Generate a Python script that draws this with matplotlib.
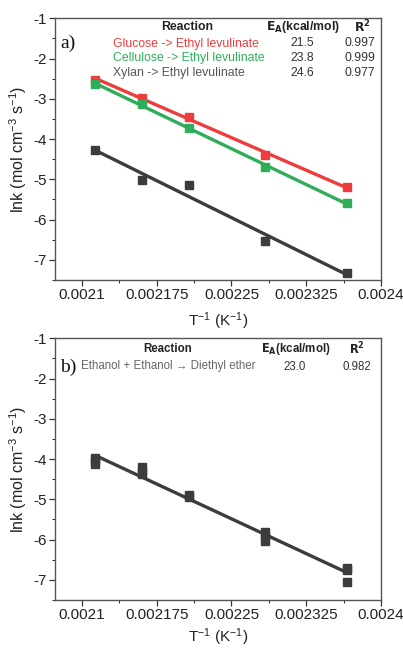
import numpy as np
import matplotlib
matplotlib.use("Agg")
import matplotlib.pyplot as plt
from matplotlib.ticker import FixedLocator, MultipleLocator

plt.rcParams['font.family'] = ['Liberation Sans', 'DejaVu Sans']
plt.rcParams['mathtext.default'] = 'regular'

# ---- data ----
x_inv_T = [0.0021135, 0.0021598, 0.0022075, 0.0022835, 0.0023660]

glucose_lnk = [-2.53, -2.97, -3.44, -4.39, -5.20]
cellulose_lnk = [-2.64, -3.12, -3.73, -4.69, -5.59]
xylan_lnk = [-4.27, -5.01, -5.14, -6.54, -7.33]

ethanol_x = [0.0021135, 0.0021135, 0.0021135,
             0.0021598, 0.0021598, 0.0021598,
             0.0022075, 0.0022075,
             0.0022835, 0.0022835, 0.0022835,
             0.0023660, 0.0023660, 0.0023660]
ethanol_lnk = [-3.98, -4.05, -4.12,
               -4.20, -4.30, -4.38,
               -4.88, -4.95,
               -5.80, -5.92, -6.03,
               -6.70, -6.75, -7.06]

series_a_names = ["Glucose -> Ethyl levulinate", "Cellulose -> Ethyl levulinate",
                  "Xylan -> Ethyl levulinate"]
series_a_EA = ["21.5", "23.8", "24.6"]
series_a_R2 = ["0.997", "0.999", "0.977"]
series_b_names = ["Ethanol + Ethanol \u2192 Diethyl ether"]
series_b_EA = ["23.0"]
series_b_R2 = ["0.982"]

xticks = [0.0021, 0.002175, 0.00225, 0.002325, 0.0024]
xticklabels = ["0.0021", "0.002175", "0.00225", "0.002325", "0.0024"]
yticks = [-7, -6, -5, -4, -3, -2, -1]

RED = "#ee3b3b"
GREEN = "#2fae5a"
DARK = "#3c3c3c"
TXTDARK = "#555555"

W, H = 403, 649
fig = plt.figure(figsize=(W / 100, H / 100), dpi=100)

def px_axes(left, top, right, bottom):
    return fig.add_axes([left / W, 1 - bottom / H, (right - left) / W, (bottom - top) / H])

ax1 = px_axes(55, 18.3, 381, 280)
ax2 = px_axes(55, 338.3, 381, 600)

def style(ax, lp):
    ax.set_xlim(0.002073, 0.0024)
    ax.set_ylim(-7.5, -1)
    ax.xaxis.set_major_locator(FixedLocator(xticks))
    ax.set_xticklabels(xticklabels)
    ax.xaxis.set_minor_locator(MultipleLocator(0.0000375))
    ax.yaxis.set_major_locator(FixedLocator(yticks))
    ax.set_yticklabels([str(v) for v in yticks])
    ax.yaxis.set_minor_locator(MultipleLocator(0.5))
    ax.tick_params(which='major', direction='out', length=4, width=0.9, labelsize=11,
                   colors='#333333', labelcolor='#222222', pad=2)
    ax.tick_params(which='minor', direction='out', length=2.5, width=0.8, colors='#333333')
    for s in ax.spines.values():
        s.set_color('#555555')
        s.set_linewidth(1.0)
    ax.set_ylabel(r'lnk (mol cm$^{-3}$ s$^{-1}$)', fontsize=11.5, color='#222222', labelpad=3)
    ax.set_xlabel(r'T$^{-1}$ (K$^{-1}$)', fontsize=11, color='#222222', labelpad=lp)

def fit_line(ax, xs, ys, color):
    p = np.polyfit(xs, ys, 1)
    xx = np.array([min(xs), max(xs)])
    ax.plot(xx, np.polyval(p, xx), color=color, lw=2.4, zorder=2, solid_capstyle='butt')

# panel a
for ys, c in [(glucose_lnk, RED), (cellulose_lnk, GREEN), (xylan_lnk, DARK)]:
    ax1.plot(x_inv_T, ys, 's', color=c, ms=5.5, zorder=3)
    fit_line(ax1, x_inv_T, ys, c)
style(ax1, 6)

# panel b
ax2.plot(ethanol_x, ethanol_lnk, 's', color=DARK, ms=5.5, zorder=3)
fit_line(ax2, ethanol_x, ethanol_lnk, DARK)
style(ax2, 3)

# tables
def xd(px):
    return (px - 55) / (381 - 55)

def yd(px, top, bottom):
    return 1 - (px - top) / (bottom - top)

fsa = 8.8
fsb = 8.3
# a
ax1.text(xd(187), yd(27, 18.3, 280), "Reaction", ha='center', va='center', fontsize=fsa,
         fontweight='bold', color='#222222', transform=ax1.transAxes)
ax1.text(xd(303), yd(27, 18.3, 280), r'$\mathbf{E_A}$(kcal/mol)', ha='center', va='center',
         fontsize=fsa, fontweight='bold', color='#222222', transform=ax1.transAxes)
ax1.text(xd(362), yd(27, 18.3, 280), r'$\mathbf{R^2}$', ha='center', va='center',
         fontsize=fsa, fontweight='bold', color='#222222', transform=ax1.transAxes)
for i, (nm, ea, r2, c) in enumerate(zip(series_a_names, series_a_EA, series_a_R2,
                                         [RED, GREEN, TXTDARK])):
    yy = yd(43.5 + 14.7 * i, 18.3, 280)
    ax1.text(xd(113), yy, nm, ha='left', va='center', fontsize=fsa, color=c, transform=ax1.transAxes)
    ax1.text(xd(302), yy, ea, ha='center', va='center', fontsize=fsa, color='#333333', transform=ax1.transAxes)
    ax1.text(xd(360), yy, r2, ha='center', va='center', fontsize=fsa, color='#333333', transform=ax1.transAxes)
ax1.text(xd(60), yd(43, 18.3, 280), "a)", ha='left', va='center', fontsize=14,
         family=['Liberation Serif', 'DejaVu Serif'], color='#111111', transform=ax1.transAxes)

# b
ax2.text(xd(168), yd(349, 338.3, 600), "Reaction", ha='center', va='center', fontsize=fsb,
         fontweight='bold', color='#222222', transform=ax2.transAxes)
ax2.text(xd(296), yd(349, 338.3, 600), r'$\mathbf{E_A}$(kcal/mol)', ha='center', va='center',
         fontsize=fsb, fontweight='bold', color='#222222', transform=ax2.transAxes)
ax2.text(xd(357), yd(349, 338.3, 600), r'$\mathbf{R^2}$', ha='center', va='center',
         fontsize=fsb, fontweight='bold', color='#222222', transform=ax2.transAxes)
for i, (nm, ea, r2) in enumerate(zip(series_b_names, series_b_EA, series_b_R2)):
    yy = yd(366.5, 338.3, 600)
    ax2.text(xd(81), yy, nm, ha='left', va='center', fontsize=fsb, color='#666666', transform=ax2.transAxes)
    ax2.text(xd(295), yy, ea, ha='center', va='center', fontsize=fsb, color='#333333', transform=ax2.transAxes)
    ax2.text(xd(357), yy, r2, ha='center', va='center', fontsize=fsb, color='#333333', transform=ax2.transAxes)
ax2.text(xd(60), yd(367, 338.3, 600), "b)", ha='left', va='center', fontsize=14,
         family=['Liberation Serif', 'DejaVu Serif'], color='#111111', transform=ax2.transAxes)

fig.savefig("out.png", dpi=100)
